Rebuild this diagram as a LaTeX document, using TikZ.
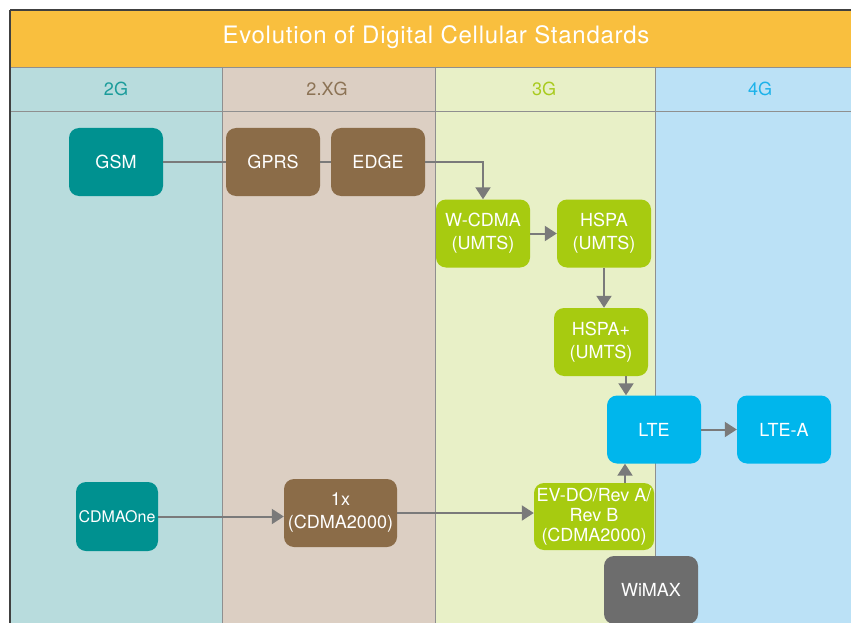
\documentclass[tikz,border=0pt]{standalone}
\usepackage{fontspec}
\setmainfont{TeX Gyre Heros}
\newfontfamily\titlefont[LetterSpace=3]{TeX Gyre Heros}
\usetikzlibrary{arrows.meta}
\definecolor{titlebg}{HTML}{F9BF3E}
\definecolor{colA}{HTML}{B8DCDD}
\definecolor{colB}{HTML}{DCCFC3}
\definecolor{colC}{HTML}{E8F0C7}
\definecolor{colD}{HTML}{BBE1F6}
\definecolor{hdA}{HTML}{1B9C9B}
\definecolor{hdB}{HTML}{8C7355}
\definecolor{hdC}{HTML}{A9CB1F}
\definecolor{hdD}{HTML}{1CB2EA}
\definecolor{teal}{HTML}{009190}
\definecolor{brownbox}{HTML}{8B6C48}
\definecolor{greenbox}{HTML}{A7CB10}
\definecolor{bluebox}{HTML}{00B6EC}
\definecolor{graybox}{HTML}{6D6D6D}
\definecolor{conn}{HTML}{7A7A7A}
\definecolor{sep}{HTML}{8F8F8F}
\tikzset{
  box/.style={rounded corners=10pt, minimum width=94pt, minimum height=68pt,
    text=white, align=center, inner sep=0pt, font=\fontsize{18}{23}\selectfont},
  hdr/.style={font=\fontsize{18}{20}\selectfont},
  link/.style={conn, line width=2pt},
  arr/.style={link, -{Triangle[length=12pt,width=15pt]}},
}
\begin{document}
\begin{tikzpicture}[x=1pt,y=-1pt]
\useasboundingbox (0,0) rectangle (851,623);
\fill[white] (0,0) rectangle (851,623);
% columns
\fill[colA] (10,67) rectangle (222,623);
\fill[colB] (222,67) rectangle (435,623);
\fill[colC] (435,67) rectangle (655,623);
\fill[colD] (655,67) rectangle (851,623);
\fill[titlebg] (10,10) rectangle (851,67);
\draw[sep, line width=1pt] (222,67) -- (222,623) (435,67) -- (435,623) (655,67) -- (655,623);
\draw[sep, line width=1pt] (10,112) -- (851,112);
\draw[sep, line width=0.8pt] (10,67) -- (851,67);
\draw[black!75, line width=1.2pt] (10,10) -- (851,10);
\draw[black!75, line width=1.2pt] (10,10) -- (10,623);
% title and headers
\node[text=white, font=\titlefont\fontsize{24}{26}\selectfont] (title) at (436,37) {Evolution of Digital Cellular Standards};
\node[hdr, text=hdA] (h2g) at (116,89) {2G};
\node[hdr, text=hdB] (h2xg) at (327,89) {2.XG};
\node[hdr, text=hdC] (h3g) at (544,89) {3G};
\node[hdr, text=hdD] (h4g) at (760,89) {4G};
% boxes
\node[box, fill=teal] (gsm) at (116,162) {GSM};
\node[box, fill=brownbox] (gprs) at (273,162) {GPRS};
\node[box, fill=brownbox] (edge) at (378,162) {EDGE};
\node[box, fill=greenbox] (wcdma) at (483,233.5) {W-CDMA\\(UMTS)};
\node[box, fill=greenbox] (hspa) at (604,233.5) {HSPA\\(UMTS)};
\node[box, fill=greenbox] (hspap) at (601,342) {HSPA+\\(UMTS)};
\node[box, fill=bluebox] (lte) at (654,429.5) {LTE};
\node[box, fill=bluebox] (ltea) at (784,429.5) {LTE-A};
\node[box, fill=teal, minimum width=82pt, minimum height=69pt,
  font=\fontsize{16}{20}\selectfont] (cdmaone) at (117,516.5) {CDMAOne};
\node[box, fill=brownbox, minimum width=113pt] (onex) at (340.5,513) {1x\\(CDMA2000)};
\node[box, fill=greenbox, minimum width=120pt, minimum height=67pt,
  font=\fontsize{18}{20}\selectfont] (evdo) at (594,516.5) {EV-DO/Rev A/\\Rev B\\(CDMA2000)};
\node[box, fill=graybox, minimum height=68pt] (wimax) at (651,590) {WiMAX};
% connectors
\draw[link] (gsm.east) -- (gprs.west);
\draw[link] (gprs.east) -- (edge.west);
\draw[arr] (edge.east) -| (wcdma.north);
\draw[arr] (wcdma.east) -- (hspa.west);
\draw[arr] (hspa.south) -- (hspa.south |- hspap.north);
\draw[arr] ([xshift=25pt]hspap.south) -- ([xshift=25pt]hspap.south |- lte.north);
\draw[arr] ([xshift=31pt]evdo.north) -- ([xshift=31pt]evdo.north |- lte.south);
\draw[arr] (lte.east) -- (ltea.west);
\draw[arr] (cdmaone.east) -- (cdmaone.east -| onex.west);
\draw[arr] (onex.east) -- (onex.east -| evdo.west);
\end{tikzpicture}
\end{document}
